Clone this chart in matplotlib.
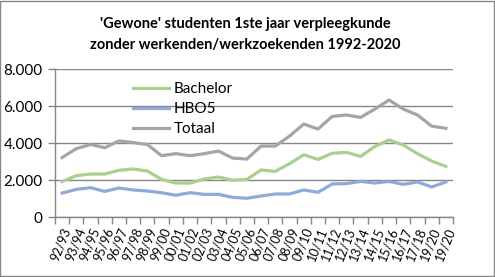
import matplotlib
matplotlib.use("Agg")
import matplotlib.pyplot as plt
from matplotlib.ticker import FuncFormatter

years = ["92/93", "93/94", "94/95", "95/96", "96/97", "97/98", "98/99", "99/00",
         "00/01", "01/02", "02/03", "03/04", "04/05", "05/06", "06/07", "07/08",
         "08/09", "09/10", "10/11", "11/12", "12/13", "13/14", "14/15", "15/16",
         "16/17", "17/18", "19/20", "19/20"]

bachelor = [1930, 2250, 2340, 2340, 2540, 2610, 2500, 2050, 1850, 1850, 2070, 2180,
            2000, 2050, 2560, 2480, 2900, 3380, 3130, 3460, 3510, 3290, 3830, 4180,
            3910, 3440, 3040, 2750]
hbo5 = [1310, 1510, 1600, 1400, 1580, 1480, 1420, 1330, 1190, 1330, 1240, 1240,
        1080, 1030, 1150, 1260, 1260, 1480, 1350, 1800, 1820, 1940, 1850, 1940,
        1780, 1910, 1640, 1910]
totaal = [3230, 3710, 3940, 3760, 4130, 4040, 3930, 3330, 3440, 3330, 3440, 3580,
          3200, 3150, 3850, 3850, 4390, 5040, 4770, 5450, 5530, 5400, 5850, 6340,
          5850, 5530, 4930, 4810]

yticks = [0, 2000, 4000, 6000, 8000]

plt.rcParams['font.family'] = ['Lato', 'DejaVu Sans']

fig = plt.figure(figsize=(4.95, 2.77), dpi=100)
ax = fig.add_axes([55 / 495, 1 - 217.3 / 277, (453 - 55) / 495, 148 / 277])

x = list(range(len(years)))
ax.plot(x, bachelor, color="#a9d18e", lw=2.3, label="Bachelor", solid_joinstyle="round")
ax.plot(x, hbo5, color="#8eaadb", lw=2.3, label="HBO5", solid_joinstyle="round")
ax.plot(x, totaal, color="#a5a5a5", lw=2.3, label="Totaal", solid_joinstyle="round")

ax.set_xlim(-0.5, len(years) - 0.5)
ax.set_ylim(0, 8000)
ax.set_yticks(yticks)
ax.yaxis.set_major_formatter(FuncFormatter(lambda v, p: f"{int(v):,}".replace(",", ".")))
ax.grid(axis="y", color="#868686", lw=1)
ax.set_axisbelow(True)

# category boundaries carry the tick marks, category centres carry the labels
ax.set_xticks([i - 0.5 for i in range(len(years) + 1)], minor=False)
ax.set_xticklabels([])
ax.set_xticks(x, minor=True)
ax.set_xticklabels(years, minor=True, rotation=68, ha="right", va="top",
                   rotation_mode="anchor", fontsize=9)
ax.tick_params(axis="x", which="major", length=5, color="#868686", width=1)
ax.tick_params(axis="x", which="minor", length=0, pad=6)
ax.tick_params(axis="y", length=5, color="#868686", width=1, labelsize=11, pad=4)

for s in ["top", "right"]:
    ax.spines[s].set_visible(False)
for s in ["left", "bottom"]:
    ax.spines[s].set_color("#868686")
    ax.spines[s].set_linewidth(1)

ax.legend(loc="upper left", bbox_to_anchor=(0.18, 0.955), frameon=False,
          fontsize=11, handlelength=2.4, handletextpad=0.3,
          labelspacing=0.4, borderaxespad=0)

fig.text(0.495, 1 - 24 / 277, "'Gewone' studenten 1ste jaar verpleegkunde",
         ha="center", va="center", fontsize=10.5, fontweight="bold")
fig.text(0.495, 1 - 45 / 277, "zonder werkenden/werkzoekenden 1992-2020",
         ha="center", va="center", fontsize=10.5, fontweight="bold")

fig.patches.append(plt.Rectangle((0.001, 0.002), 0.997, 0.995, transform=fig.transFigure,
                                 fill=False, edgecolor="#868686", lw=1))

fig.savefig("out.png", dpi=100)
